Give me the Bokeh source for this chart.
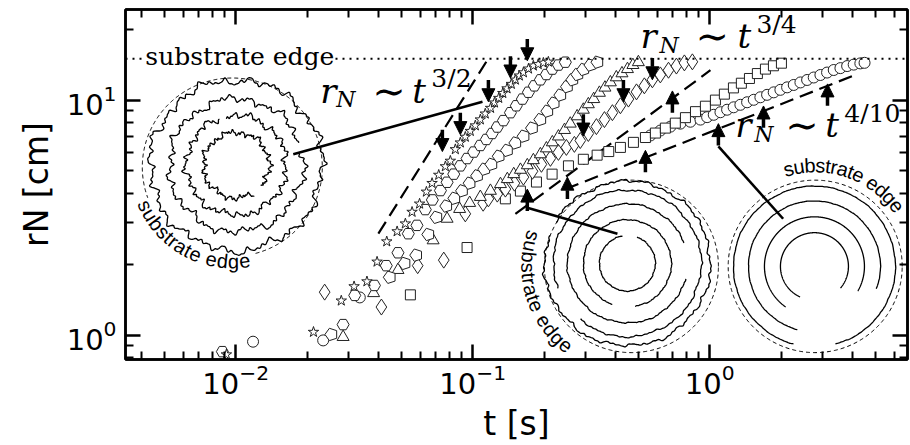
import numpy as np
from bokeh.plotting import figure
from bokeh.models import (Range1d, LogAxis, FixedTicker, Label, Span, Arrow,
                          NormalHead, ColumnDataSource)
from bokeh.core.properties import value
from bokeh.embed import file_html
from bokeh.resources import INLINE

# ---------------- data (t [s], r_N [cm]) ----------------
star_t = [0.00914, 0.0213, 0.0279, 0.0316, 0.0358, 0.0395, 0.0434, 0.048, 0.052, 0.0555,
          0.0597, 0.0638, 0.0674, 0.0719, 0.0767, 0.0805, 0.0845, 0.0887, 0.0931, 0.0977,
          0.1026, 0.1077, 0.113, 0.119, 0.1236, 0.1288, 0.134, 0.1396, 0.1456, 0.1514,
          0.1574, 0.1637, 0.172, 0.1803, 0.189, 0.1987, 0.2086]
star_r = [0.826, 1.03, 1.40, 1.61, 1.69, 2.05, 2.50, 2.76, 2.98, 3.34,
          3.62, 4.07, 4.43, 4.80, 5.22, 5.51, 6.17, 6.59, 6.97, 7.38,
          7.79, 8.26, 8.75, 9.25, 9.75, 10.2, 10.7, 11.2, 11.7, 12.2,
          12.7, 13.1, 13.6, 14.0, 14.2, 14.4, 14.55]

hex_t = [0.00879, 0.0284, 0.0318, 0.0385, 0.0432, 0.0484, 0.0535, 0.0582, 0.0631, 0.0676,
         0.0731, 0.078, 0.0832, 0.0887, 0.0947, 0.101, 0.1077, 0.1142, 0.1208, 0.127,
         0.1348, 0.1443, 0.1528, 0.162, 0.1718, 0.182, 0.193, 0.2046, 0.2168, 0.230, 0.246]
hex_r = [0.850, 1.108, 1.475, 1.626, 1.974, 2.24, 2.70, 2.93, 3.42, 3.76,
         4.12, 4.47, 4.84, 5.25, 5.64, 6.01, 6.41, 6.80, 7.21, 7.68,
         8.18, 8.84, 9.46, 10.1, 10.8, 11.5, 12.2, 12.85, 13.55, 14.1, 14.5]

pent_t = [0.02535, 0.0447, 0.0516, 0.0578, 0.065, 0.0703, 0.0774, 0.0837, 0.0902, 0.0971,
          0.1044, 0.112, 0.12, 0.1288, 0.1396, 0.1514, 0.164, 0.178, 0.193, 0.2066,
          0.2198, 0.2344, 0.250, 0.2635, 0.2767, 0.293, 0.314, 0.336]
pent_r = [1.006, 1.762, 2.018, 2.188, 2.68, 3.17, 3.54, 3.82, 4.11, 4.43,
          4.76, 5.08, 5.33, 5.77, 6.11, 6.57, 7.02, 7.60, 8.26, 8.97,
          9.71, 10.5, 11.4, 12.2, 12.85, 13.5, 14.1, 14.5]

tri_t = [0.0284, 0.0382, 0.0484, 0.0681, 0.078, 0.0881, 0.0971, 0.1077, 0.1188, 0.131,
         0.140, 0.149, 0.159, 0.170, 0.1803, 0.193, 0.2046, 0.2168, 0.230, 0.244,
         0.258, 0.2758, 0.293, 0.3076, 0.324, 0.3425, 0.3614, 0.381, 0.4036, 0.4264,
         0.4498, 0.4742, 0.500]
tri_r = [0.981, 1.508, 1.892, 2.53, 3.126, 3.44, 3.65, 3.87, 4.11, 4.39,
         4.61, 4.84, 5.05, 5.28, 5.55, 5.88, 6.23, 6.61, 7.0, 7.46,
         7.94, 8.53, 9.1, 9.6, 10.1, 10.74, 11.3, 11.9, 12.5, 13.0,
         13.55, 14.1, 14.5]

dia_t = [0.02374, 0.0412, 0.0586, 0.0755, 0.0931, 0.1107, 0.1165, 0.127, 0.1374, 0.150,
         0.1637, 0.1788, 0.195, 0.2128, 0.230, 0.2485, 0.2686, 0.2845, 0.3076, 0.3327,
         0.3597, 0.3886, 0.420, 0.454, 0.491, 0.530, 0.573, 0.619, 0.670, 0.7235,
         0.782, 0.845]
dia_r = [1.523, 1.316, 1.974, 2.084, 3.28, 3.64, 3.80, 3.98, 4.18, 4.43,
         4.70, 4.98, 5.33, 5.65, 5.99, 6.29, 6.48, 6.73, 7.21, 7.71,
         8.26, 8.84, 9.46, 10.1, 10.84, 11.5, 12.2, 12.8, 13.4, 13.96,
         14.4, 14.55]

sq_t = [0.0546, 0.0947, 0.1374, 0.159, 0.1858, 0.2163, 0.2535, 0.293, 0.335, 0.375,
        0.420, 0.4766, 0.5355, 0.590, 0.650, 0.716, 0.790, 0.871, 0.959, 1.057,
        1.153, 1.259, 1.36, 1.471, 1.589, 1.718, 1.857, 2.007]
sq_r = [1.483, 2.358, 3.80, 4.10, 4.48, 4.84, 5.25, 5.60, 5.83, 6.04,
        6.29, 6.61, 6.93, 7.24, 7.60, 7.98, 8.42, 8.93, 9.42, 10.0,
        10.6, 11.27, 11.8, 12.36, 12.97, 13.55, 14.0, 14.36]

circ_t = [0.01184, 0.0234, 0.0334, 0.562, 0.619, 0.683, 0.752, 0.829, 0.914, 0.975,
          1.04, 1.11, 1.184, 1.262, 1.347, 1.438, 1.534, 1.636, 1.746, 1.862,
          1.987, 2.121, 2.262, 2.414, 2.576, 2.747, 2.931, 3.127, 3.336, 3.56,
          3.80, 4.05, 4.32, 4.50]
circ_r = [0.937, 0.949, 1.446, 7.07, 7.42, 7.71, 7.94, 8.09, 8.26, 8.46,
          8.66, 8.88, 9.10, 9.32, 9.55, 9.79, 10.03, 10.28, 10.53, 10.79,
          11.06, 11.33, 11.6, 11.89, 12.18, 12.48, 12.79, 13.1, 13.43, 13.68,
          13.96, 14.16, 14.33, 14.41]

substrate_edge = 15.0

# power-law guides (end points)
g32_t, g32_r = [0.040, 0.1153], [2.70, 14.8]
g34_t, g34_r = [0.1514, 1.007], [3.28, 13.4]
g410_t, g410_r = [0.246, 4.0], [4.18, 12.66]

# arrows (tip positions)
down_t = [0.0745, 0.0887, 0.1165, 0.1443, 0.170, 0.293, 0.4325, 0.573]
down_r = [6.04, 7.13, 9.84, 12.42, 14.7, 7.03, 9.84, 12.2]
up_t = [0.170, 0.251, 0.5355, 0.696, 1.088, 1.686, 3.14]
up_r = [4.18, 4.70, 6.11, 10.94, 7.94, 9.44, 11.72]

# connector lines from snapshots to curves
conn_t0 = [0.0175, 0.408, 2.04]
conn_r0 = [5.88, 2.70, 3.126]
conn_t1 = [0.110, 0.170, 1.088]
conn_r1 = [9.84, 3.48, 6.35]

XR = (0.00343, 6.83)
YR = (0.787, 24.3)

# ---------------- figure ----------------
p = figure(width=910, height=445, x_axis_type="log", y_axis_type="log",
           x_range=Range1d(*XR), y_range=Range1d(*YR),
           output_backend="svg", toolbar_location=None,
           min_border_left=125, min_border_right=3, min_border_top=9, min_border_bottom=83)
p.grid.visible = False
p.outline_line_color = "black"
p.outline_line_width = 2.5
p.background_fill_color = "white"
p.border_fill_color = "white"

PXD = 782.0 / (np.log10(XR[1]) - np.log10(XR[0]))   # pixels per decade

def minors(lo, hi):
    out = []
    for e in range(-4, 3):
        for m in range(2, 10):
            v = m * 10.0 ** e
            if lo < v < hi:
                out.append(v)
    return out

xt = FixedTicker(ticks=[0.01, 0.1, 1.0], minor_ticks=minors(*XR))
yt = FixedTicker(ticks=[1.0, 10.0], minor_ticks=minors(*YR))

def style(ax, labels=True):
    ax.axis_line_width = 2.5
    ax.axis_line_color = "black"
    ax.major_tick_in = 15
    ax.major_tick_out = 0
    ax.minor_tick_in = 8
    ax.minor_tick_out = 0
    ax.major_tick_line_width = 2.5
    ax.minor_tick_line_width = 2
    ax.major_tick_line_color = "black"
    ax.minor_tick_line_color = "black"
    if labels:
        ax.major_label_text_font = "DejaVu Sans"
        ax.major_label_text_font_size = "29px"
        ax.major_label_text_color = "black"
        ax.axis_label_text_font = "DejaVu Sans"
        ax.axis_label_text_font_size = "33px"
        ax.axis_label_text_font_style = "normal"
        ax.axis_label_text_color = "black"
    else:
        ax.major_label_text_font_size = "1px"
        ax.major_label_text_alpha = 0
        ax.major_label_standoff = 0

p.xaxis.ticker = xt
p.yaxis.ticker = yt
style(p.xaxis[0])
style(p.yaxis[0])
p.xaxis.major_label_standoff = 4
p.yaxis.major_label_standoff = 9
p.xaxis.axis_label = "t [s]"
p.yaxis.axis_label = "rN [cm]"
p.xaxis.axis_label_standoff = 7
p.yaxis.axis_label_standoff = 8
top = LogAxis(ticker=xt)
right = LogAxis(ticker=yt)
style(top, False)
style(right, False)
p.add_layout(top, "above")
p.add_layout(right, "right")

# ---------------- snapshot insets ----------------
def ring(ct, cr, rad_px, a0, a1, wig=0.0, ph=0.0, n=500):
    th = np.radians(np.linspace(a0, a1, n))
    rp = rad_px + wig * (np.sin(23 * th + ph) + 0.6 * np.sin(41 * th + 2 * ph + 1)
                         + 0.45 * np.sin(67 * th + 0.5 + ph) + 0.3 * np.sin(101 * th + 3 * ph)
                         + 0.8 * np.sin(7 * th + 2 * ph) + 0.5 * np.sin(13 * th + ph + 2))
    d = rp / PXD
    return list(ct * 10 ** (d * np.cos(th))), list(cr * 10 ** (d * np.sin(th)))

# left snapshot (fingering pattern)
L_c = (0.01007, 5.28)
L_rings = [(86, 0, 360, 2.2, 0.0), (67, 20, 372, 2.0, 1.1), (50, 110, 462, 1.8, 2.3), (33, -40, 300, 1.5, 0.7)]
# middle snapshot
M_c = (0.4494, 2.019)
M_rings = [(28, 100, 430, 0.2, 0.3), (44, -80, 250, 0.25, 1.0), (60, 20, 345, 0.35, 2.0),
           (74, -130, 200, 0.5, 0.4), (83, -200, 150, 0.9, 1.7)]
# right snapshot
R_c = (2.766, 1.96)
R_rings = [(34, -40, 245, 0.0, 0.0), (50, -30, 235, 0.0, 0.0), (66, -20, 255, 0.1, 0.5),
           (81, -75, 255, 0.15, 1.2)]

xs, ys = [], []
for c, rings in ((L_c, L_rings), (M_c, M_rings), (R_c, R_rings)):
    for (rad, a0, a1, w, ph) in rings:
        x, y = ring(c[0], c[1], rad, a0, a1, w, ph)
        xs.append(x); ys.append(y)
p.multi_line(xs, ys, line_color="black", line_width=1.3)

dx, dy = [], []
for (c, rad, a0, a1) in (((0.00968, 5.18), 90, 285, 560), ((0.4674, 1.96), 87, 0, 360),
                         ((2.786, 1.96), 87, 0, 360)):
    x, y = ring(c[0], c[1], rad, a0, a1)
    dx.append(x); dy.append(y)
p.multi_line(dx, dy, line_color="black", line_width=1, line_dash="4 3")

W = {'s': .5, 'u': .556, 'b': .556, 't': .278, 'r': .333, 'a': .556, 'e': .556,
     ' ': .278, 'd': .556, 'g': .556}

def arc_text(c, rad_px, a0, direction, size, txt="substrate edge"):
    tx, ty, ang, ch = [], [], [], []
    s = 0.0
    d = rad_px / PXD
    for chr_ in txt:
        w = W[chr_] * size
        th = np.radians(a0) + direction * (s + w / 2) / rad_px
        tx.append(c[0] * 10 ** (d * np.cos(th)))
        ty.append(c[1] * 10 ** (d * np.sin(th)))
        ang.append(th + direction * np.pi / 2)
        ch.append(chr_)
        s += w
    p.text(x=tx, y=ty, text=ch, angle=ang, text_align="center", text_baseline="middle",
           text_font=value("Liberation Sans"), text_font_size="20px", text_color="black")

arc_text((0.00968, 5.18), 95, 201, 1, 20)
arc_text((0.4674, 1.96), 103, 160, 1, 20)
arc_text((2.786, 1.96), 102, 108, -1, 20)

# connectors
p.segment(conn_t0, conn_r0, conn_t1, conn_r1, line_color="black", line_width=2.6)

# substrate edge line
p.add_layout(Span(location=substrate_edge, dimension="width", line_color="black",
                  line_width=2, line_dash="2 5"))
p.add_layout(Label(x=0.004159, y=substrate_edge, y_offset=2, text="substrate edge",
                   text_font="DejaVu Serif", text_font_size="25px", text_baseline="alphabetic",
                   background_fill_color="white", text_color="black"))

# guides
for gt, gr in ((g32_t, g32_r), (g34_t, g34_r), (g410_t, g410_r)):
    p.line(gt, gr, line_color="black", line_width=2.2, line_dash="14 7")

# ---------------- data series ----------------
mk = dict(fill_color="white", line_color="#222222", line_width=1)
p.scatter(circ_t, circ_r, marker="circle", size=11, **mk)
p.scatter(sq_t, sq_r, marker="square", size=10, **mk)
p.scatter(dia_t, dia_r, marker="diamond", size=16, **mk)
p.scatter(tri_t, tri_r, marker="triangle", size=12, **mk)
if hasattr(p, "ngon"):
    p.ngon(x=pent_t, y=pent_r, radius=6.5, radius_units="screen", n=5, angle=np.pi / 2, **mk)
else:
    p.scatter(pent_t, pent_r, marker="hex", size=12, **mk)
p.scatter(hex_t, hex_r, marker="hex", size=12, **mk)
p.scatter(star_t, star_r, marker="star", size=11, **mk)

# ---------------- arrows ----------------
k = 10 ** (22.0 / PXD)
src_d = ColumnDataSource(dict(x0=down_t, y0=[r * k for r in down_r], x1=down_t, y1=down_r))
src_u = ColumnDataSource(dict(x0=up_t, y0=[r / k for r in up_r], x1=up_t, y1=up_r))
for src in (src_d, src_u):
    p.add_layout(Arrow(end=NormalHead(size=13, fill_color="black", line_color="black", line_width=1),
                       x_start="x0", y_start="y0", x_end="x1", y_end="y1", source=src,
                       line_width=3.5, line_color="black"))

# ---------------- math labels ----------------
def math_label(t0, r0, sup, sub_dy=-9, sup_dy=12, gaps=(16, 54, 92, 113)):
    pieces = [("r", 0, 0, 34, "italic"), ("N", gaps[0], sub_dy, 22, "italic"),
              ("\u223c", gaps[1], 0, 40, "normal"), ("t", gaps[2], 0, 34, "italic"),
              (sup, gaps[3], sup_dy, 25, "normal")]
    for txt, ox, oy, sz, st in pieces:
        p.add_layout(Label(x=t0, y=r0, x_offset=ox, y_offset=oy + 11, text=txt, text_font="DejaVu Serif",
                           text_font_style=st, text_font_size=f"{sz}px", text_baseline="alphabetic",
                           text_color="black"))

math_label(0.02277, 9.836, "3/2", gaps=(16, 52, 92, 111))
math_label(0.5101, 16.78, "3/4", gaps=(19, 55, 97, 116))
math_label(1.283, 7.0, "4/10", gaps=(19, 50, 90, 109))

open("out.html", "w").write(file_html(p, INLINE))
